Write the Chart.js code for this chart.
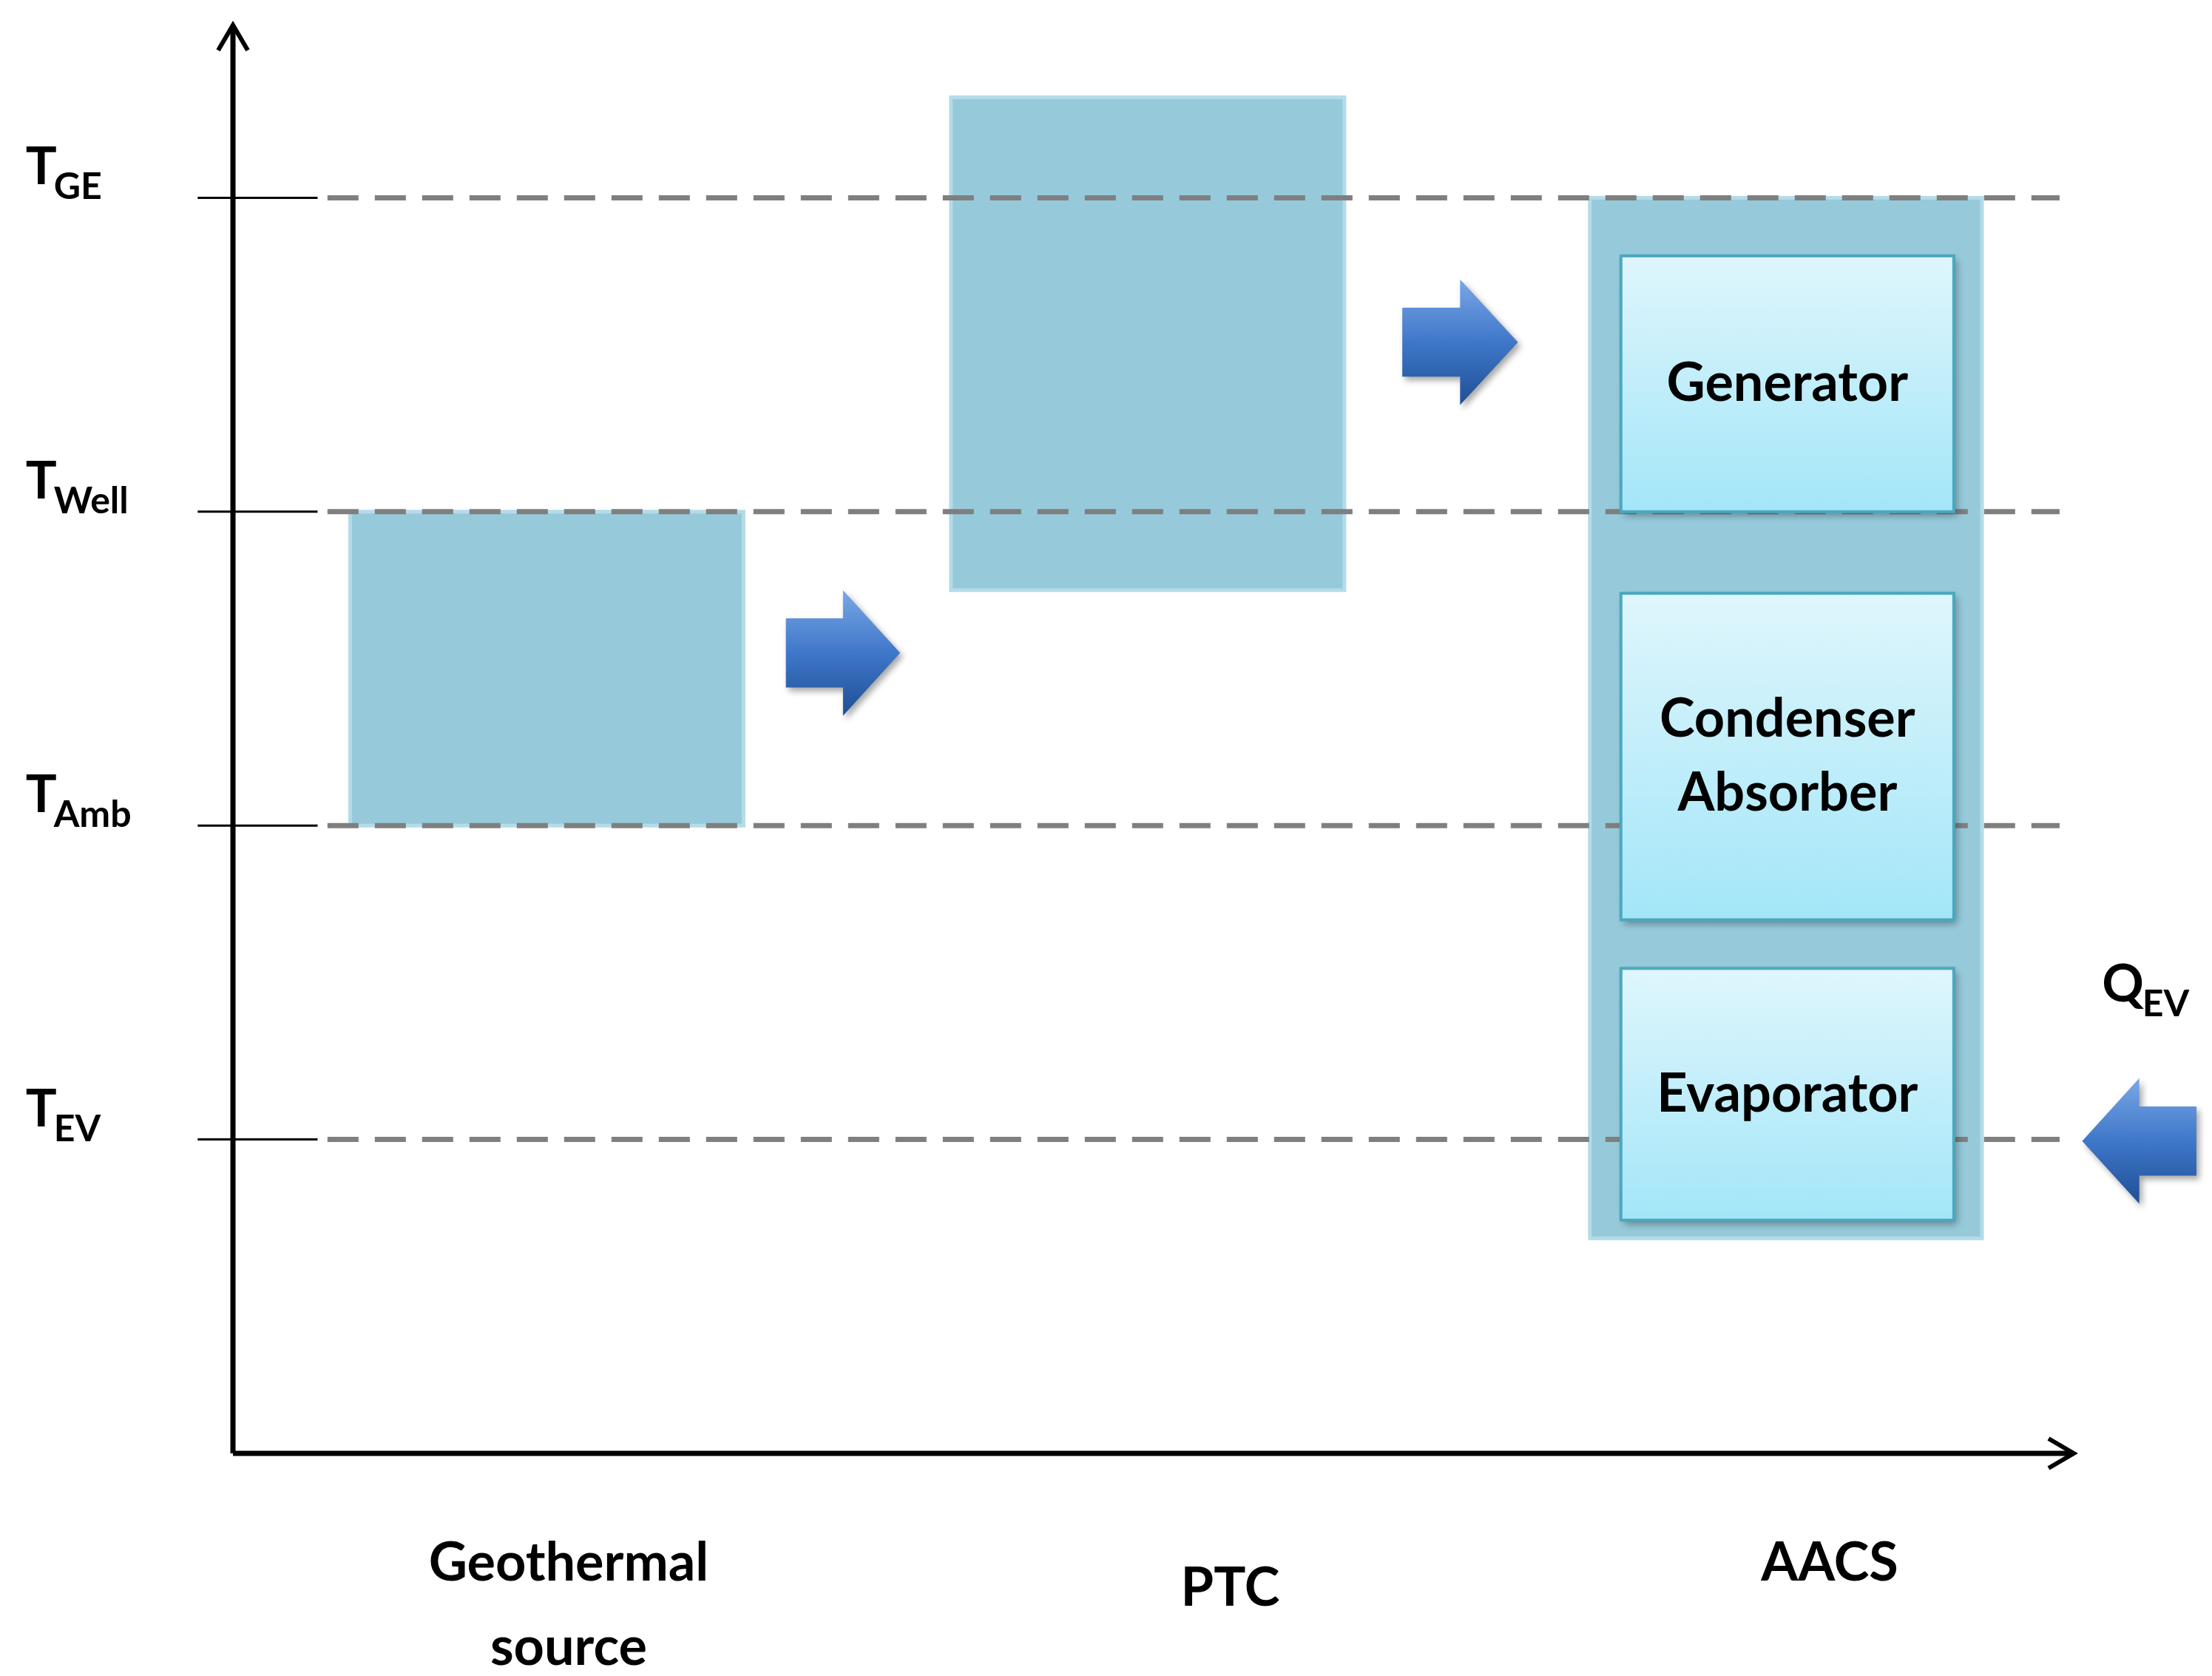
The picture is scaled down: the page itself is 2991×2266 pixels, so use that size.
<!DOCTYPE html><html><head><meta charset="utf-8">
<script src="https://cdn.jsdelivr.net/npm/chart.js@4"></script>
<style>html,body{margin:0;padding:0;background:#fff}canvas{display:block}</style></head><body>
<div style="width:2991px;height:2266px"><canvas id="c" width="2991" height="2266"></canvas></div>
<script>
// temperature levels (y units)
const levelNames=[["T","EV"],["T","Amb"],["T","Well"],["T","GE"]];
const levelValues=[1,2,3,4];
const categories=[["Geothermal","source"],["PTC"],["AACS"]];
const categoryX=[403,872,1297];
const categoryY=[[0.-0.35,-0.62],[-0.43],[-0.35]];
// background boxes: [x0,x1,yLow,yHigh]
const heatBoxes=[[248,527,2,3],[674,953,2.75,4.32],[1127,1405,0.685,4.0]];
// AACS components
const components=["Generator",["Condenser","Absorber"],"Evaporator"];
const compBoxes=[[1149,1385,3.0,3.815],[1149,1385,1.70,2.74],[1149,1385,0.743,1.545]];
// arrows: [x0,x1,yCenter,halfHeightInLevels,dir]
const arrows=[[557,638,2.55,0.2,1],[994,1076,3.54,0.2,1],[1476,1557,0.995,0.2,-1]];
const qLabel=["Q","EV"];

const plugin={id:'draw',afterDraw(ch){
 const ctx=ch.ctx,X=v=>ch.scales.x.getPixelForValue(v),Y=v=>ch.scales.y.getPixelForValue(v);
 ctx.save();
 // boxes
 heatBoxes.forEach(b=>{const x0=X(b[0]),x1=X(b[1]),y0=Y(b[3]),y1=Y(b[2]);
  ctx.fillStyle='#96cadb';ctx.fillRect(x0,y0,x1-x0,y1-y0);
  ctx.strokeStyle='#b4dbe8';ctx.lineWidth=5;ctx.strokeRect(x0,y0,x1-x0,y1-y0);});
 // dashed + solid tick lines
 levelValues.forEach((v,i)=>{const y=Y(v);
  ctx.setLineDash([]);ctx.strokeStyle='#000';ctx.lineWidth=3;
  ctx.beginPath();ctx.moveTo(X(140),y);ctx.lineTo(X(225),y);ctx.stroke();
  ctx.setLineDash([42,22]);ctx.strokeStyle='#7f7f7f';ctx.lineWidth=7;
  ctx.beginPath();ctx.moveTo(X(232),y);ctx.lineTo(X(1460),y);ctx.stroke();
  ctx.setLineDash([]);
  ctx.fillStyle='#000';ctx.textBaseline='alphabetic';ctx.textAlign='left';
  ctx.font='bold 70px Lato';const tx=X(18);const ty=y-18;
  ctx.fillText(levelNames[i][0],tx,ty);const w=ctx.measureText(levelNames[i][0]).width;
  ctx.font='bold 50px Lato';ctx.fillText(levelNames[i][1],tx+w-4,ty+20);
 });
 // component boxes
 compBoxes.forEach((b,i)=>{const x0=X(b[0]),x1=X(b[1]),y0=Y(b[3]),y1=Y(b[2]);
  ctx.shadowColor='rgba(0,0,0,0.35)';ctx.shadowBlur=10;ctx.shadowOffsetX=4;ctx.shadowOffsetY=5;
  const g=ctx.createLinearGradient(0,y0,0,y1);g.addColorStop(0,'#dff6fc');g.addColorStop(1,'#a3e6f8');
  ctx.fillStyle=g;ctx.fillRect(x0,y0,x1-x0,y1-y0);
  ctx.shadowColor='transparent';
  ctx.strokeStyle='#4ba8bd';ctx.lineWidth=4;ctx.strokeRect(x0,y0,x1-x0,y1-y0);
  ctx.fillStyle='#000';ctx.font='bold 72px Lato';ctx.textAlign='center';ctx.textBaseline='middle';
  const lines=[].concat(components[i]);const cx=(x0+x1)/2,cy=(y0+y1)/2;
  lines.forEach((t,k)=>ctx.fillText(t,cx,cy+(k-(lines.length-1)/2)*100));
 });
 // arrows
 arrows.forEach(a=>{const x0=X(a[0]),x1=X(a[1]),yc=Y(a[2]),hh=Y(a[2]-a[3])-yc,sh=hh*0.55,d=a[4];
  const xs=d>0?x0:x1,xe=d>0?x1:x0,xm=xs+(xe-xs)*0.5;
  const g=ctx.createLinearGradient(0,yc-hh,0,yc+hh);g.addColorStop(0,'#7aa7e6');g.addColorStop(0.5,'#3f77c9');g.addColorStop(1,'#1f4f95');
  ctx.shadowColor='rgba(0,0,0,0.35)';ctx.shadowBlur=8;ctx.shadowOffsetX=4;ctx.shadowOffsetY=5;
  ctx.fillStyle=g;ctx.beginPath();
  ctx.moveTo(xs,yc-sh);ctx.lineTo(xm,yc-sh);ctx.lineTo(xm,yc-hh);ctx.lineTo(xe,yc);ctx.lineTo(xm,yc+hh);ctx.lineTo(xm,yc+sh);ctx.lineTo(xs,yc+sh);ctx.closePath();ctx.fill();
  ctx.shadowColor='transparent';});
 // Q label
 ctx.fillStyle='#000';ctx.textAlign='left';ctx.textBaseline='alphabetic';ctx.font='bold 70px Lato';
 const qx=X(1490),qy=Y(1.44);ctx.fillText(qLabel[0],qx,qy);const qw=ctx.measureText(qLabel[0]).width;
 ctx.font='bold 50px Lato';ctx.fillText(qLabel[1],qx+qw-2,qy+20);
 // axes
 ctx.strokeStyle='#000';ctx.lineWidth=7;ctx.lineCap='butt';
 const ax=X(165),ay=Y(0),top=Y(4.55),right=X(1470);
 ctx.beginPath();ctx.moveTo(ax,ay);ctx.lineTo(ax,top);ctx.moveTo(ax,ay);ctx.lineTo(right,ay);ctx.stroke();
 ctx.lineWidth=6;ctx.beginPath();
 ctx.moveTo(ax-20,top+34);ctx.lineTo(ax,top);ctx.lineTo(ax+20,top+34);
 ctx.moveTo(right-34,ay-20);ctx.lineTo(right,ay);ctx.lineTo(right-34,ay+20);ctx.stroke();
 // categories
 ctx.font='bold 72px Lato';ctx.textAlign='center';ctx.textBaseline='middle';
 categories.forEach((c,i)=>c.forEach((t,k)=>ctx.fillText(t,X(categoryX[i]),Y(categoryY[i][k]))));
 ctx.restore();
}};
new Chart(document.getElementById('c'),{type:'scatter',data:{datasets:[{data:[],pointRadius:0}]},
 options:{responsive:false,animation:false,devicePixelRatio:1,
  layout:{padding:{left:315,right:187,top:34,bottom:301}},
  plugins:{legend:{display:false},tooltip:{enabled:false}},
  scales:{x:{type:'linear',min:165,max:1470,display:false},y:{type:'linear',min:0,max:4.55,display:false}}},
 plugins:[plugin]});
</script></body></html>
